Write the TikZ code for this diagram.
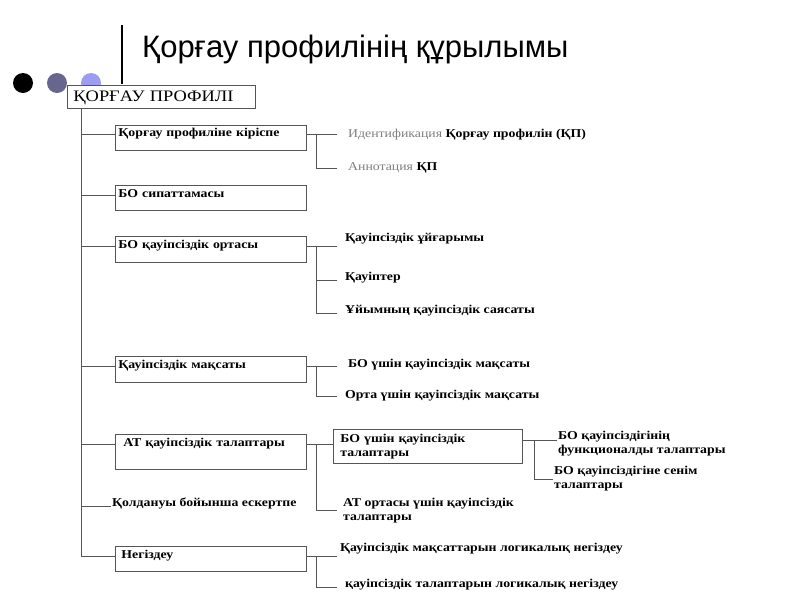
\documentclass[tikz,border=0pt]{standalone}
\usepackage{fontspec}
\setmainfont{Liberation Serif}
\newfontfamily\titlefont{Liberation Sans}
\newfontfamily\schemefont[FakeStretch=1.15]{Liberation Serif}
\usetikzlibrary{positioning,calc}
\definecolor{linegray}{HTML}{555555}
\definecolor{notegray}{HTML}{7F7F7F}
\definecolor{bulletslate}{HTML}{66668F}
\definecolor{bulletlav}{HTML}{9C9CF0}
\newcommand{\schemetext}{\schemefont\bfseries\fontsize{12}{14}\selectfont}

\begin{document}
\begin{tikzpicture}[x=1pt,y=-1pt,
  conn/.style={draw=linegray,line width=0.9pt},
  secbox/.style={draw=linegray,line width=0.9pt,fill=white,anchor=north west,
    text width=185pt,align=left,inner xsep=3pt,inner ysep=0pt,font=\schemetext},
  leafnode/.style={anchor=base west,inner xsep=8pt,inner ysep=0pt,font=\schemetext},
  twoline/.style={anchor=west,align=left,inner xsep=1pt,inner ysep=0pt,font=\schemetext}]
\useasboundingbox (0,0) rectangle (800,600);
\fill[white] (0,0) rectangle (800,600);

% title and bullets
\draw[line width=2.5pt] (122,25) -- (122,84);
\node[anchor=base west,inner sep=0pt,font=\titlefont\fontsize{31}{36}\selectfont] (title) at (142,57) {Қорғау профилінің құрылымы};
\foreach \x/\c in {23/black,57/bulletslate,91/bulletlav}
  \fill[\c] (\x,83) circle (10pt);

% root box
\node[draw=linegray,line width=0.9pt,fill=white,anchor=north west,text width=176pt,inner xsep=6pt,inner ysep=0pt,
  text height=16pt,text depth=7pt,font=\schemefont\fontsize{16}{18}\selectfont] (root) at (67,85) {ҚОРҒАУ ПРОФИЛІ};
\coordinate (trunk) at ([xshift=14pt]root.south west);

% sections
\node[secbox,text height=11pt,text depth=14pt] (intro) at (115,125) {Қорғау профиліне кіріспе};
\node[secbox,text height=12pt,text depth=13pt] (desc) at (115,185) {БО сипаттамасы};
\node[secbox,text height=12pt,text depth=14pt] (env) at (115,236) {БО қауіпсіздік ортасы};
\node[secbox,text height=12pt,text depth=14pt] (obj) at (115,356) {Қауіпсіздік мақсаты};
\node[secbox,text height=12pt,text depth=23pt] (atreq) at (115,434) {\hspace*{5pt}АТ қауіпсіздік талаптары};
\node[leafnode,inner xsep=1pt] (note) at (111,506) {Қолдануы бойынша ескертпе};
\node[secbox,text height=12pt,text depth=13pt] (neg) at (115,546) {\hspace*{3pt}Негіздеу};

% trunk
\draw[conn] (trunk) |- (neg.mid west);
\foreach \s in {intro,desc,env,obj,atreq}
  \draw[conn] (trunk |- \s.mid west) -- (\s.mid west);
\draw[conn] (trunk |- note.base west) -- (note.base west);

% introduction
\node[leafnode,inner xsep=11pt] (ident) at (337,137.5) {{\mdseries\color{notegray}Идентификация} Қорғау профилін (ҚП)};
\node[leafnode,inner xsep=11pt] (annot) at (337,170.5) {{\mdseries\color{notegray}Аннотация} ҚП};
\coordinate (fintro) at ([xshift=10pt]intro.mid east);
\draw[conn] (intro.mid east) -- (intro.mid east -| ident.west);
\draw[conn] (fintro) |- (annot.mid west);

% environment
\node[leafnode] (assume) at (337,241.5) {Қауіпсіздік ұйғарымы};
\node[leafnode] (threat) at (337,280.5) {Қауіптер};
\node[leafnode] (policy) at (337,313.5) {Ұйымның қауіпсіздік саясаты};
\coordinate (fenv) at ([xshift=10pt]env.mid east);
\draw[conn] (env.mid east) -- (env.mid east -| assume.west);
\foreach \l in {threat,policy}
  \draw[conn] (fenv) |- (\l.base west);

% objectives
\node[leafnode,inner xsep=11pt] (objbo) at (337,367.5) {БО үшін қауіпсіздік мақсаты};
\node[leafnode] (objenv) at (337,398.5) {Орта үшін қауіпсіздік мақсаты};
\coordinate (fobj) at ([xshift=10pt]obj.mid east);
\draw[conn] (obj.mid east) -- (obj.mid east -| objbo.west);
\draw[conn] (fobj) |- (objenv.mid west);

% IT requirements
\node[secbox,text width=175pt,inner xsep=7pt,text height=13.5pt,text depth=20.5pt] (boreq) at (333,429) {БО үшін қауіпсіздік\\талаптары};
\node[twoline,inner xsep=6pt] (envreq) at (337,510.5) {АТ ортасы үшін қауіпсіздік\\талаптары};
\coordinate (fat) at ([xshift=10pt]atreq.mid east);
\draw[conn] (atreq.mid east) -- (atreq.mid east -| boreq.west);
\draw[conn] (fat) |- (envreq.west);

\node[twoline] (funcreq) at (557,444) {БО қауіпсіздігінің\\функционалды талаптары};
\node[twoline] (trustreq) at (553,479) {БО қауіпсіздігіне сенім\\талаптары};
\coordinate (fbo) at ([xshift=12pt]boreq.mid east);
\draw[conn] (boreq.mid east) -- (boreq.mid east -| funcreq.west);
\draw[conn] (fbo) |- (trustreq.west);

% rationale
\node[leafnode,inner xsep=3pt] (ratobj) at (337,551.5) {Қауіпсіздік мақсаттарын логикалық негіздеу};
\node[leafnode] (ratreq) at (337,587.5) {қауіпсіздік талаптарын логикалық негіздеу};
\coordinate (fneg) at ([xshift=10pt]neg.mid east);
\draw[conn] (neg.mid east) -- (neg.mid east -| ratobj.west);
\draw[conn] (fneg) |- (ratreq.base west);
\end{tikzpicture}
\end{document}
